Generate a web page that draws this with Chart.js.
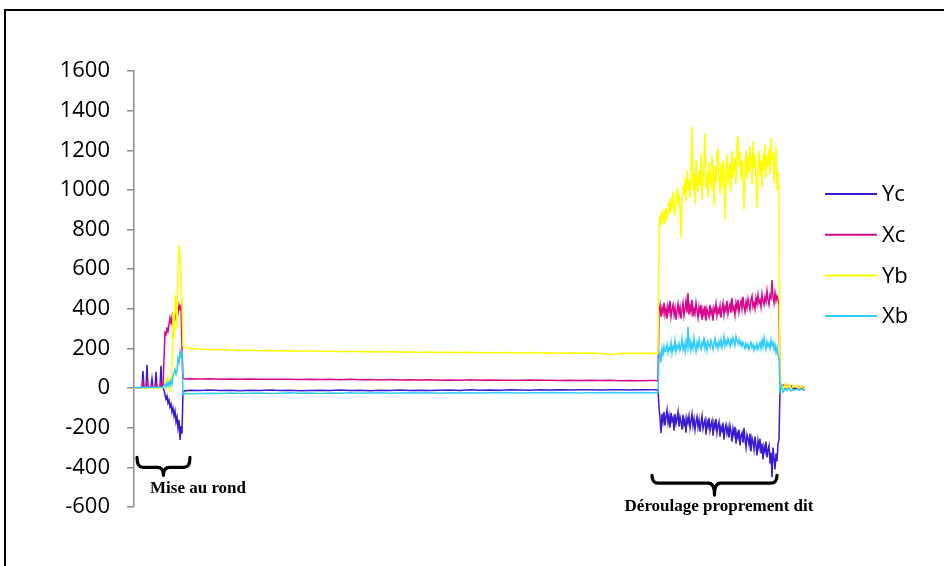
<!DOCTYPE html>
<html lang="fr">
<head>
<meta charset="utf-8">
<title>Efforts - mise au rond et déroulage</title>
<script src="https://cdn.jsdelivr.net/npm/chart.js@4.4.1/dist/chart.umd.min.js"></script>
<style>
  html, body { margin: 0; padding: 0; background: #fff; overflow: hidden; }
  #wrap { position: relative; width: 944px; height: 566px; overflow: hidden; }
  #frame { position: absolute; left: 4px; top: 9px; width: 1200px; height: 900px; border: 2px solid #000; box-sizing: border-box; }
  canvas { position: absolute; left: 0; top: 0; }
</style>
</head>
<body>
<div id="wrap">
  <div id="frame"></div>
  <canvas id="c" width="944" height="566"></canvas>
</div>
<script>
// Sample instants (arbitrary time units)
const time = [
  1,2,3,4,5,6,7,8,9,10,11,12,13,14,15,16,17,18,19,20,21,22,23,24,25,26,27,28,29,30,31,32,33,34,35,36,37,38,39,40,41,42,43,44,45,46,47,48,49,50,51,
  56,66,76,86,96,106,116,126,136,146,156,166,176,186,196,206,216,226,236,246,256,266,276,286,296,306,316,326,336,346,356,366,376,386,396,406,416,426,436,446,456,466,476,486,496,506,516,
  521,523,524,
  525,526,527,528,529,530,531,532,533,534,535,536,537,538,539,540,541,542,543,544,545,546,547,548,549,550,551,552,553,554,555,556,557,558,559,560,
  561,562,563,564,565,566,567,568,569,570,571,572,573,574,575,576,577,578,579,580,581,582,583,584,585,586,587,588,589,590,591,592,593,594,595,596,
  597,598,599,600,601,602,603,604,605,606,607,608,609,610,611,612,613,614,615,616,617,618,619,620,621,622,623,624,625,626,627,628,629,630,631,632,
  633,634,635,636,637,638,639,640,641,642,643,644,645,
  646,647,649,651,653,655,657,659,661,663,665,667,669,671
];

const yc = [
  0,0,2,0,3,0,2,5,86,3, 0,4,117,5,2,4,6,48,4,2, 5,82,6,3,5,8,112,6,2,-10,
  -35,-55,-40,-75,-60,-95,-80,-120,-100,-140, -115,-170,-145,-200,-160,-262,-190,-230,-15,-12, -14,
  -11,-12,-10,-12,-11,-13,-11,-12,-10,-12, -11,-13,-12,-11,-12,-10,-12,-11,-13,-11,
  -12,-10,-12,-11,-12,-11,-10,-12,-9,-11, -10,-11,-9,-10,-11,-9,-10,-8,-10,-9, -8,-10,-9,-8,-10,-8,-9,
  -8,-9,-7,
  -100,-150,-227,-130,-170,-120,-190,-145,-110,-175,
  -140,-200,-125,-165,-150,-215,-130,-180,-155,-120,
  -195,-145,-170,-210,-135,-185,-160,-225,-150,-175,
  -140,-200,-165,-130,-190,-155,-210,-170,-145,-195,
  -160,-220,-175,-140,-205,-180,-160,-235,-170,-195,
  -150,-215,-185,-165,-240,-175,-200,-155,-225,-190,
  -170,-245,-195,-215,-175,-260,-205,-185,-230,-200,
  -250,-190,-220,-270,-205,-235,-195,-280,-225,-250,
  -210,-290,-240,-225,-275,-200,-260,-300,-235,-255,
  -285,-230,-320,-250,-270,-310,-245,-290,-340,-265,
  -300,-255,-330,-280,-360,-295,-320,-270,-350,-310,
  -290,-380,-325,-450,-300,-355,-410,-330,-370,-280,
  -260,
  0,-3,2,-5,0,-4,3,-2,0,-5,-2,-6,-4,-10
];

const xc = [
  0,1,0,2,1,0,2,4,30,5, 3,2,35,4,3,5,4,15,4,3, 5,25,5,4,6,5,30,6,8,150,
  280,270,300,285,320,355,330,360,295,340, 370,350,395,380,420,400,415,200,52,48, 46,
  47,46,47,45,46,45,46,44,45,44, 45,43,44,43,44,42,44,42,43,41,
  43,41,42,41,42,40,41,40,42,40, 41,39,40,39,41,39,40,38,39,38, 40,38,39,37,38,37,38,
  38,37,38,
  390,420,360,405,380,430,370,400,350,415,
  385,440,360,395,420,370,405,345,390,425,
  375,410,350,395,430,365,400,440,380,480,
  370,415,385,445,360,400,375,430,390,355,
  410,380,420,345,395,370,415,340,400,380,
  360,420,375,395,340,405,385,425,365,400,
  380,415,355,400,430,370,410,390,440,375,
  405,425,380,455,395,410,370,430,400,445,
  385,420,440,400,460,410,385,435,405,450,
  420,395,445,465,410,430,400,455,425,470,
  430,445,410,475,440,420,460,435,490,445,
  420,470,455,545,460,430,480,440,465,450,
  420,
  15,20,12,18,10,14,8,12,6,10,5,8,4,0
];

const yb = [
  0,0,1,0,1,2,1,0,1,2, 0,1,2,1,0,1,2,0,1,1, 2,0,1,2,1,2,0,1,3,5,
  15,40,20,55,30,-20,40,60,380,250, 460,440,300,620,722,680,520,440,212,207, 205,
  200,197,194,195,192,190,192,189,190,187, 189,186,188,185,187,184,186,183,185,182,
  184,181,183,180,182,180,181,179,181,178, 180,178,179,177,179,177,178,176,178,176, 177,175,170,174,176,174,176,
  175,176,174,
  780,870,820,900,850,880,830,910,860,890,
  940,880,960,900,990,920,870,960,1010,930,
  980,900,760,950,1020,980,1060,940,1100,1000,
  1050,960,1120,1318,1000,1080,930,1150,1040,990,
  1100,1020,1180,950,1060,1130,1288,1010,1090,960,
  1140,1050,1000,1170,1080,920,1120,1040,1190,1202,
  1060,980,1130,1010,1150,1070,850,1100,1180,1020,
  1090,1140,990,1200,1060,1110,1170,1030,1230,1273,
  1120,1190,1050,1150,1080,900,1130,1200,1060,1170,
  1090,1220,1140,1030,1247,1110,1180,1050,910,1120,
  1200,1070,1150,1010,1180,1100,1230,1060,1170,1120,
  1210,1080,1262,1150,1190,1040,1130,1220,1000,1090,
  965,
  10,25,-5,18,0,22,-8,12,5,15,-2,8,3,-5
];

const xb = [
  2,3,1,4,2,3,5,2,4,3, 6,2,3,5,4,2,5,3,4,6, 3,5,2,4,6,3,5,4,6,10,
  20,5,25,10,30,15,40,20,60,75, 95,70,90,150,130,185,160,175,-30,-25, -28,
  -28,-27,-26,-27,-25,-27,-26,-25,-27,-26, -24,-26,-25,-27,-25,-26,-24,-26,-25,-24,
  -26,-25,-23,-25,-24,-26,-24,-25,-23,-25, -24,-22,-24,-25,-23,-24,-22,-24,-23,-25, -23,-24,-22,-24,-23,-22,-24,
  -23,-24,-22,
  150,175,130,200,170,210,185,195,220,180,
  205,190,230,175,210,195,240,185,215,200,
  225,190,210,250,195,220,185,235,205,308,
  210,240,190,225,200,255,215,185,230,205,
  245,210,195,230,215,260,200,225,190,235,
  215,205,240,220,195,230,250,210,225,200,
  235,215,245,205,225,260,215,240,220,250,
  230,210,245,225,255,235,215,260,240,225,
  245,220,235,210,230,215,200,225,205,220,
  195,215,230,205,220,190,210,200,225,195,
  215,230,200,240,210,255,220,195,235,210,
  225,200,245,215,230,195,220,180,205,165,
  150,
  -10,15,-20,-5,-12,0,-15,-8,-10,-5,-12,-6,-8,-10
];

const seriesNames = ['Yc', 'Xc', 'Yb', 'Xb'];
const seriesColors = ['#3a19d2', '#d8088e', '#ffff00', '#33ccff'];
const yTicks = { min: -600, max: 1600, step: 200 };

// Phase annotations, anchored in data coordinates
const phases = [
  { text: 'Mise au rond', from: 3, to: 56, top: -350, bar: -400, tip: -440, textX: 16, textY: -530, align: 'left' },
  { text: 'Déroulage proprement dit', from: 518, to: 643, top: -440, bar: -480, tip: -540, textX: 585, textY: -620, align: 'center' }
];

const toPoints = arr => time.map((t, i) => ({ x: t, y: arr[i] }));

const phasePlugin = {
  id: 'phases',
  afterDraw(chart) {
    const { ctx, scales: { x, y } } = chart;
    ctx.save();
    ctx.strokeStyle = '#000';
    ctx.fillStyle = '#000';
    ctx.lineWidth = 3.2;
    ctx.lineCap = 'round';
    ctx.lineJoin = 'round';
    phases.forEach(p => {
      const x1 = x.getPixelForValue(p.from), x2 = x.getPixelForValue(p.to);
      const yt = y.getPixelForValue(p.top), yb = y.getPixelForValue(p.bar), yp = y.getPixelForValue(p.tip);
      const xm = (x1 + x2) / 2, r = 6;
      ctx.beginPath();
      ctx.moveTo(x1, yt);
      ctx.quadraticCurveTo(x1, yb, x1 + r, yb);
      ctx.lineTo(xm - r, yb);
      ctx.quadraticCurveTo(xm, yb, xm, yp);
      ctx.quadraticCurveTo(xm, yb, xm + r, yb);
      ctx.lineTo(x2 - r, yb);
      ctx.quadraticCurveTo(x2, yb, x2, yt);
      ctx.stroke();
      ctx.font = 'bold 17px "Liberation Serif", "Times New Roman", serif';
      ctx.textAlign = p.align;
      ctx.textBaseline = 'alphabetic';
      ctx.fillText(p.text, x.getPixelForValue(p.textX), y.getPixelForValue(p.textY));
    });
    ctx.restore();
  }
};

const legendPlugin = {
  id: 'sideLegend',
  afterDraw(chart) {
    const { ctx } = chart;
    ctx.save();
    ctx.font = '22px "Open Sans", sans-serif';
    ctx.textBaseline = 'middle';
    ctx.textAlign = 'left';
    chart.data.datasets.forEach((ds, i) => {
      const cy = 194 + i * 40.7;
      ctx.strokeStyle = ds.borderColor;
      ctx.lineWidth = 2;
      ctx.beginPath();
      ctx.moveTo(825, cy);
      ctx.lineTo(877, cy);
      ctx.stroke();
      ctx.fillStyle = '#000';
      ctx.fillText(ds.label, 882, cy + 1);
    });
    ctx.restore();
  }
};

new Chart(document.getElementById('c'), {
  type: 'line',
  data: {
    datasets: [yc, xc, yb, xb].map((arr, i) => ({
      label: seriesNames[i],
      data: toPoints(arr),
      borderColor: seriesColors[i],
      backgroundColor: seriesColors[i],
      borderWidth: 1.5,
      pointRadius: 0,
      tension: 0,
      order: 4 - i
    }))
  },
  options: {
    responsive: false,
    animation: false,
    devicePixelRatio: 1,
    layout: { padding: { top: 71, bottom: 59, left: 0, right: 138 } },
    plugins: { legend: { display: false }, tooltip: { enabled: false } },
    scales: {
      x: { type: 'linear', min: 0, max: 672, display: false },
      y: {
        min: yTicks.min,
        max: yTicks.max,
        ticks: {
          stepSize: yTicks.step,
          color: '#000',
          padding: 17,
          font: { family: '"Open Sans", sans-serif', size: 22 },
          callback: v => String(v)
        },
        grid: { drawOnChartArea: false, drawTicks: true, tickLength: 7, color: '#8c8c8c', lineWidth: 1.5 },
        border: { color: '#8c8c8c', width: 1.5 },
        afterFit(scale) { scale.width = 134; }
      }
    }
  },
  plugins: [phasePlugin, legendPlugin]
});
</script>
</body>
</html>
